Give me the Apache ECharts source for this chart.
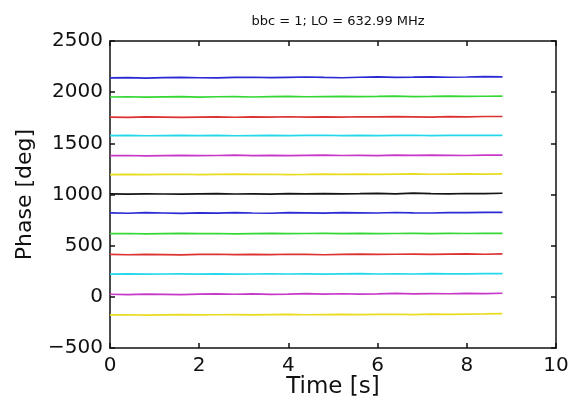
<!DOCTYPE html>
<html>
<head>
<meta charset="utf-8">
<script src="https://cdn.jsdelivr.net/npm/echarts@6/dist/echarts.min.js"></script>
<style>
html,body{margin:0;padding:0;background:#fff;}
#chart{width:571px;height:398px;}
</style>
</head>
<body>
<div id="chart"></div>
<script>
const titleText = 'bbc = 1; LO = 632.99 MHz';
const xName = 'Time [s]';
const yName = 'Phase [deg]';
const xTicks = [0, 2, 4, 6, 8, 10];
const yTicks = [-500, 0, 500, 1000, 1500, 2000, 2500];

const time = [0,0.4,0.8,1.2,1.6,2,2.4,2.8,3.2,3.6,4,4.4,4.8,5.2,5.6,6,6.4,6.8,7.2,7.6,8,8.4,8.8];

const blue1 = [2140,2143,2138,2142,2145,2141,2139,2144,2146,2142,2145,2148,2144,2141,2146,2149,2145,2147,2150,2146,2148,2151,2149];
const green1 = [1953,1955,1951,1954,1956,1952,1955,1957,1953,1956,1958,1955,1957,1959,1956,1958,1961,1957,1959,1962,1958,1960,1962];
const red1 = [1757,1754,1758,1756,1753,1757,1759,1755,1758,1756,1760,1757,1759,1756,1760,1758,1761,1759,1757,1761,1759,1762,1762];
const cyan1 = [1575,1577,1574,1576,1578,1575,1577,1574,1576,1578,1575,1577,1579,1576,1578,1575,1577,1579,1576,1578,1577,1579,1578];
const magenta1 = [1379,1381,1377,1380,1383,1379,1381,1384,1380,1382,1379,1383,1385,1381,1383,1380,1384,1382,1385,1383,1381,1384,1385];
const yellow1 = [1195,1197,1194,1196,1198,1195,1197,1199,1196,1198,1195,1197,1200,1197,1199,1196,1199,1201,1198,1200,1202,1199,1202];
const black1 = [1006,1004,1007,1005,1003,1007,1009,1005,1007,1004,1008,1006,1009,1006,1008,1011,1007,1013,1009,1007,1010,1008,1012];
const blue2 = [820,817,822,819,816,821,818,823,819,817,822,820,818,823,821,819,824,821,819,823,822,825,826];
const green2 = [617,619,616,618,620,617,619,616,618,620,617,619,621,618,620,617,619,621,618,620,619,621,620];
const red2 = [414,411,415,413,410,414,416,412,415,413,416,414,411,415,417,414,416,418,415,417,419,416,420];
const cyan2 = [222,224,221,223,225,222,224,221,223,225,223,225,222,224,226,223,225,223,226,224,225,227,226];
const magenta2 = [25,22,27,24,21,26,29,25,28,24,27,31,27,30,26,29,33,29,32,30,34,31,35];
const yellow2 = [-177,-175,-178,-176,-174,-177,-175,-173,-176,-174,-172,-175,-173,-171,-174,-172,-170,-173,-169,-171,-168,-167,-165];

const seriesList = [
  {name:'s1', data: yellow2, color:'#e8dc20'},
  {name:'s2', data: magenta2, color:'#c838c8'},
  {name:'s3', data: cyan2, color:'#22d8ea'},
  {name:'s4', data: red2, color:'#dc3232'},
  {name:'s5', data: green2, color:'#34d834'},
  {name:'s6', data: blue2, color:'#2a2ad4'},
  {name:'s7', data: black1, color:'#151515'},
  {name:'s8', data: yellow1, color:'#e8dc20'},
  {name:'s9', data: magenta1, color:'#c838c8'},
  {name:'s10', data: cyan1, color:'#22d8ea'},
  {name:'s11', data: red1, color:'#dc3232'},
  {name:'s12', data: green1, color:'#34d834'},
  {name:'s13', data: blue1, color:'#2a2ad4'}
];

const FONT = 'DejaVu Sans';
const axisLineStyle = {color:'#111', width:1.5};

const chart = echarts.init(document.getElementById('chart'), null, {renderer:'canvas'});
chart.setOption({
  animation: false,
  backgroundColor: '#fff',
  title: {
    text: titleText, left: 333, top: 10, textAlign: 'center',
    textStyle: {fontFamily: FONT, fontSize: 13, fontWeight: 'normal', color: '#111'}
  },
  grid: {left: 110, right: 15, top: 41, bottom: 50, containLabel: false, outerBoundsMode: 'none'},
  xAxis: [{
    type: 'value', min: xTicks[0], max: xTicks[xTicks.length-1], interval: 2,
    name: xName, nameLocation: 'middle', nameGap: 28, nameMoveOverlap: false,
    nameTextStyle: {fontFamily: FONT, fontSize: 23, color: '#111'},
    axisLine: {show: true, onZero: false, lineStyle: axisLineStyle},
    axisTick: {show: true, inside: true, length: 5, lineStyle: axisLineStyle},
    axisLabel: {fontFamily: FONT, fontSize: 20, color: '#111', margin: 8},
    splitLine: {show: false}
  }, {
    type: 'value', position: 'top', min: xTicks[0], max: xTicks[xTicks.length-1], interval: 2,
    axisLine: {show: true, onZero: false, lineStyle: axisLineStyle},
    axisTick: {show: true, inside: true, length: 5, lineStyle: axisLineStyle},
    axisLabel: {show: false}, splitLine: {show: false}
  }],
  yAxis: [{
    type: 'value', min: yTicks[0], max: yTicks[yTicks.length-1], interval: 500,
    name: yName, nameLocation: 'middle', nameGap: 74, nameRotate: 90, nameMoveOverlap: false,
    nameTextStyle: {fontFamily: FONT, fontSize: 22, color: '#111'},
    axisLine: {show: true, onZero: false, lineStyle: axisLineStyle},
    axisTick: {show: true, inside: true, length: 5, lineStyle: axisLineStyle},
    axisLabel: {fontFamily: FONT, fontSize: 20, color: '#111', margin: 7,
      formatter: v => String(v).replace('-', '\u2212')},
    splitLine: {show: false}
  }, {
    type: 'value', position: 'right', min: yTicks[0], max: yTicks[yTicks.length-1], interval: 500,
    axisLine: {show: true, onZero: false, lineStyle: axisLineStyle},
    axisTick: {show: true, inside: true, length: 5, lineStyle: axisLineStyle},
    axisLabel: {show: false}, splitLine: {show: false}
  }],
  series: seriesList.map(s => ({
    name: s.name, type: 'line', xAxisIndex: 0, yAxisIndex: 0,
    data: time.map((t, i) => [t, s.data[i]]),
    showSymbol: false, symbol: 'none', smooth: false,
    lineStyle: {color: s.color, width: 1.7},
    itemStyle: {color: s.color}
  }))
});
</script>
</body>
</html>
